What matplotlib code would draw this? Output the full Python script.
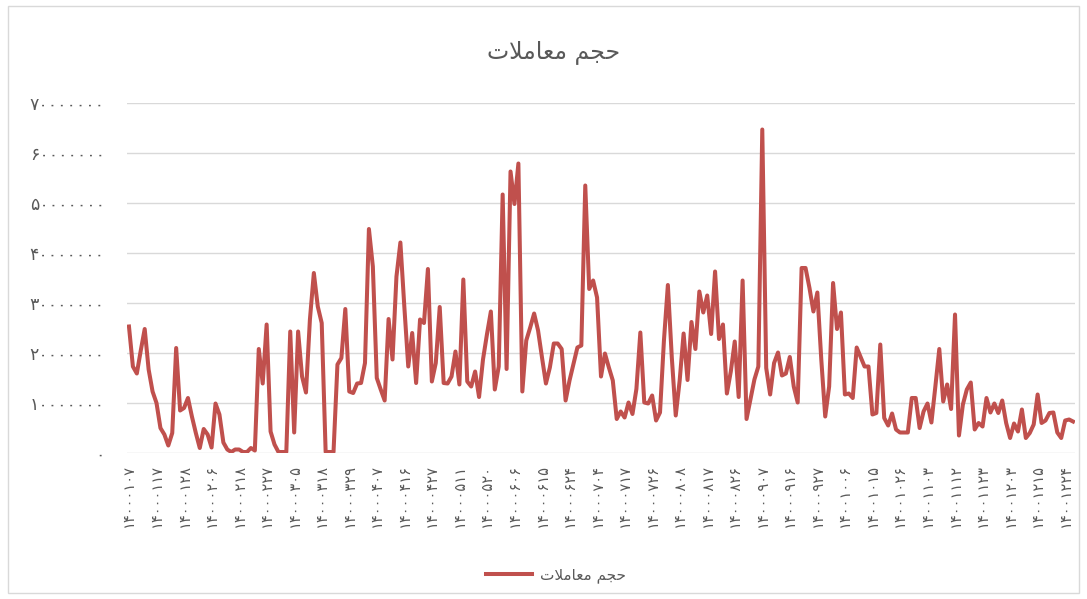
import matplotlib.pyplot as plt
from matplotlib.patches import Rectangle

# عنوان (حجم معاملات) با حروف شکل‌دار و ترتیب نمایشی، چون matplotlib شکل‌دهی عربی ندارد
title = '\uFE95\uFEFC\uFEE3\uFE8E\uFECC\uFEE3 \uFEE2\uFEA0\uFEA3'

dates = ['14000107', '14000117', '14000128', '14000206', '14000218', '14000227',
         '14000305', '14000318', '14000329', '14000407', '14000416', '14000427',
         '14000511', '14000520', '14000606', '14000615', '14000624', '14000704',
         '14000717', '14000726', '14000808', '14000817', '14000826', '14000907',
         '14000916', '14000927', '14001006', '14001015', '14001026', '14001103',
         '14001112', '14001123', '14001203', '14001215', '14001224']

# حجم معاملات (واحد: ده میلیون)
volume_10m = [2.53, 1.73, 1.59, 2.05, 2.48, 1.67, 1.23, 1.00, 0.50, 0.37,
              0.15, 0.40, 2.10, 0.85, 0.90, 1.10, 0.73, 0.40, 0.10, 0.48,
              0.37, 0.11, 0.99, 0.77, 0.21, 0.07, 0.02, 0.07, 0.07, 0.02,
              0.02, 0.10, 0.05, 2.08, 1.39, 2.57, 0.43, 0.17, 0.02, 0.02,
              0.02, 2.43, 0.41, 2.43, 1.53, 1.21, 2.67, 3.60, 2.93, 2.60,
              0.02, 0.02, 0.02, 1.77, 1.90, 2.88, 1.23, 1.20, 1.39, 1.40,
              1.80, 4.48, 3.73, 1.50, 1.27, 1.05, 2.68, 1.87, 3.53, 4.21,
              2.93, 1.73, 2.40, 1.40, 2.67, 2.60, 3.68, 1.43, 1.80, 2.92,
              1.40, 1.39, 1.53, 2.03, 1.37, 3.47, 1.43, 1.33, 1.63, 1.12,
              1.87, 2.37, 2.83, 1.27, 1.73, 5.17, 1.68, 5.63, 4.98, 5.79,
              1.23, 2.25, 2.51, 2.79, 2.45, 1.91, 1.39, 1.71, 2.19, 2.19,
              2.08, 1.05, 1.45, 1.78, 2.11, 2.15, 5.35, 3.28, 3.45, 3.11,
              1.53, 1.99, 1.71, 1.45, 0.68, 0.83, 0.71, 1.01, 0.78, 1.28,
              2.41, 1.01, 0.99, 1.15, 0.65, 0.81, 2.25, 3.36, 1.91, 0.75,
              1.45, 2.39, 1.46, 2.62, 2.08, 3.23, 2.81, 3.15, 2.38, 3.63,
              2.28, 2.57, 1.19, 1.63, 2.23, 1.12, 3.45, 0.68, 1.07, 1.47,
              1.73, 6.47, 1.70, 1.17, 1.80, 2.01, 1.55, 1.59, 1.92, 1.33,
              1.01, 3.70, 3.70, 3.30, 2.83, 3.21, 1.87, 0.73, 1.33, 3.40,
              2.48, 2.81, 1.17, 1.19, 1.10, 2.11, 1.92, 1.73, 1.73, 0.77,
              0.80, 2.17, 0.70, 0.55, 0.79, 0.47, 0.41, 0.41, 0.41, 1.10,
              1.10, 0.50, 0.83, 0.99, 0.61, 1.33, 2.08, 1.03, 1.37, 0.88,
              2.77, 0.35, 0.97, 1.27, 1.41, 0.47, 0.60, 0.53, 1.10, 0.81,
              0.99, 0.80, 1.05, 0.60, 0.30, 0.59, 0.43, 0.87, 0.30, 0.40,
              0.57, 1.17, 0.60, 0.65, 0.80, 0.81, 0.41, 0.30, 0.65, 0.67,
              0.63]

y_ticks = [0, 10000000, 20000000, 30000000, 40000000, 50000000, 60000000, 70000000]

fa = str.maketrans('0123456789', '۰۱۲۳۴۵۶۷۸۹')
volume = [v * 1e7 for v in volume_10m]
gray = '#595959'

fig = plt.figure(figsize=(10.87, 5.99), dpi=100)
fig.patches.append(Rectangle((8 / 1087, 6 / 599), 1071 / 1087, 587 / 599,
                             transform=fig.transFigure, fill=False,
                             edgecolor='#D9D9D9', lw=1))

ax = fig.add_axes([127 / 1087, 1 - 453 / 599, 948 / 1087, 350 / 599])
ax.plot(range(len(volume)), volume, color='#C0504D', lw=2.9,
        solid_joinstyle='round', label=title)

ax.set_xlim(-0.5, len(volume) - 0.5)
ax.set_ylim(0, 70000000)
ax.set_yticks(y_ticks)
ax.set_yticklabels([str(v).translate(fa) for v in y_ticks])
ax.set_xticks(range(0, len(volume), 7))
ax.set_xticklabels([d.translate(fa) for d in dates], rotation=90)

ax.grid(axis='y', color='#D9D9D9', lw=1)
ax.set_axisbelow(True)
for s in ax.spines.values():
    s.set_visible(False)
ax.tick_params(length=0, colors=gray)
ax.tick_params(axis='y', pad=16, labelsize=12.5)
ax.tick_params(axis='x', pad=8, labelsize=10.5)

fig.text(554 / 1087, 1 - 52 / 599, title, ha='center', va='center',
         fontsize=17, color=gray)
fig.legend(loc='center', bbox_to_anchor=(556 / 1087, 1 - 575 / 599),
           frameon=False, fontsize=11, labelcolor=gray, handlelength=3,
           handletextpad=0.5)

fig.savefig('out.png', dpi=100)
